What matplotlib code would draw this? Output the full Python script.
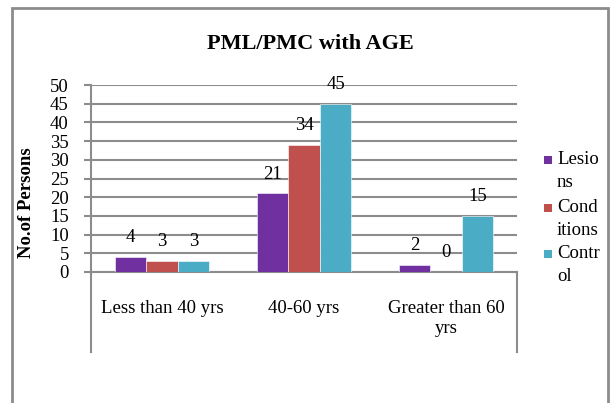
import matplotlib
matplotlib.use("Agg")
import matplotlib.pyplot as plt
from matplotlib.lines import Line2D
from matplotlib.patches import Rectangle
import numpy as np

categories = ["Less than 40 yrs", "40-60 yrs", "Greater than 60\nyrs"]
series_names = ["Lesions", "Conditions", "Control"]
legend_labels = ["Lesio\nns", "Cond\nitions", "Contr\nol"]
lesions = [4, 21, 2]
conditions = [3, 34, 0]
control = [3, 45, 15]
colors = ["#7030A0", "#C0504D", "#4BACC6"]
yticks = list(range(0, 55, 5))

plt.rcParams['font.family'] = ['Liberation Serif', 'DejaVu Serif']

W, H = 611, 403
fig = plt.figure(figsize=(W / 100, H / 100), dpi=100)
x0, x1, y0, y1 = 91, 517, 272, 85
ax = fig.add_axes([x0 / W, 1 - y0 / H, (x1 - x0) / W, (y0 - y1) / H])

gray = "#8c8c8c"
fs = 13.5
x = np.arange(len(categories))
bw = 0.223
data = [lesions, conditions, control]
for i, (vals, c, lab) in enumerate(zip(data, colors, series_names)):
    pos = x + (i - 1) * bw
    ax.bar(pos, vals, width=bw, color=c, label=lab, zorder=3,
           edgecolor="white", linewidth=0.4)
    for p, v in zip(pos, vals):
        ax.annotate(str(v), (p, v), xytext=(0, 14), textcoords="offset points",
                    ha="center", va="center", fontsize=fs, zorder=4)

ax.set_xlim(-0.5, 2.5)
ax.set_ylim(0, 50)
ax.set_yticks(yticks)
ax.tick_params(axis="y", length=5, width=1.5, color=gray, pad=11, labelsize=fs, direction="out")
ax.set_xticks(x)
ax.set_xticklabels(categories, fontsize=fs, linespacing=1.25)
ax.tick_params(axis="x", length=0, pad=20)
ax.yaxis.grid(True, color=gray, linewidth=1.5, zorder=0)
ax.set_axisbelow(True)
for s in ["top", "right"]:
    ax.spines[s].set_visible(False)
ax.spines["left"].set_color(gray)
ax.spines["left"].set_linewidth(1.5)
ax.spines["bottom"].set_color(gray)
ax.spines["bottom"].set_linewidth(1.5)

# extended category-area verticals
for xv in (x0, x1):
    fig.add_artist(Line2D([xv / W, xv / W], [1 - y0 / H, 1 - 352 / H],
                          color=gray, linewidth=1.5))

fig.text(27 / W, 1 - 203 / H, "No.of Persons", rotation=90, ha="center", va="center",
         fontsize=fs, fontweight="bold")

fig.text(310 / W, 1 - 44 / H, "PML/PMC with AGE", ha="center", va="center",
         fontsize=16, fontweight="bold")

# legend (wrapped labels, marker aligned with first line)
leg_y = [160, 208, 254]
for lab, c, ly in zip(legend_labels, colors, leg_y):
    fig.add_artist(Rectangle((544 / W, 1 - (ly + 4) / H), 8 / W, 8 / H,
                             transform=fig.transFigure, facecolor=c, edgecolor="none"))
    fig.text(557 / W, 1 - (ly - 9) / H, lab, ha="left", va="top",
             fontsize=fs, linespacing=1.45)

fig.add_artist(Rectangle((12 / W, -0.05), (608 - 12) / W, 1 - 8 / H + 0.05,
                         transform=fig.transFigure, fill=False,
                         edgecolor=gray, linewidth=2))

fig.savefig("out.png", dpi=100)
